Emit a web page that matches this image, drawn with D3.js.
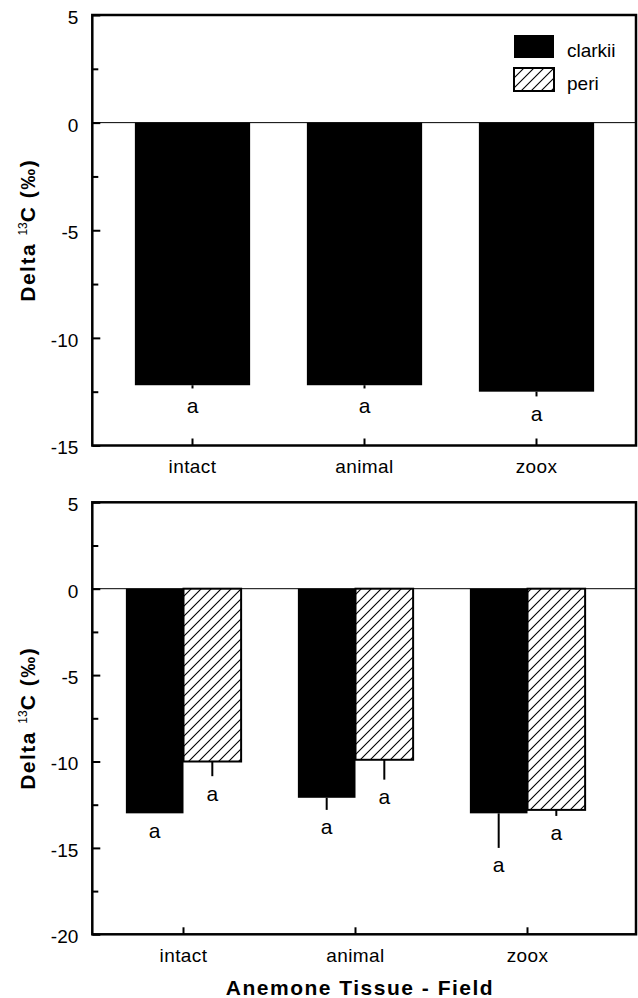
<!DOCTYPE html>
<html>
<head>
<meta charset="utf-8">
<script src="https://cdn.jsdelivr.net/npm/d3@7"></script>
<style>
    body{margin:0;background:#fff;}
    text{font-family:"Liberation Sans",Arial,sans-serif;fill:#000;}
</style>
</head>
<body>
<script>
//categories and series names
var categories = ["intact", "animal", "zoox"];
var seriesNames = ["clarkii", "peri"];

//top panel values (clarkii only)
var topClarkii = [-12.2, -12.2, -12.5];
var topClarkiiErr = [0.15, 0.15, 0.22];
var topLetters = ["a", "a", "a"];

//bottom panel values
var botClarkii = [-13.0, -12.1, -13.0];
var botClarkiiErr = [0, 0.7, 2.0];
var botClarkiiLetters = ["a", "a", "a"];
var botPeri = [-10.0, -9.9, -12.8];
var botPeriErr = [0.85, 1.15, 0.35];
var botPeriLetters = ["a", "a", "a"];

//tick values
var topMajorTicks = [5, 0, -5, -10, -15];
var topMinorTicks = [2.5, -2.5, -7.5, -12.5];
var botMajorTicks = [5, 0, -5, -10, -15, -20];
var botMinorTicks = [2.5, -2.5, -7.5, -12.5, -17.5];

var xTitle = "Anemone Tissue - Field";

(function(){

    var width = 638,
        height = 998,
        plotLeft = 92.3,
        plotRight = 636,
        step = 172;

    var svg = d3.select("body")
        .append("svg")
        .attr("width", width)
        .attr("height", height);

    //diagonal hatch for peri
    var pattern = svg.append("defs")
        .append("pattern")
        .attr("id", "hatch")
        .attr("patternUnits", "userSpaceOnUse")
        .attr("width", 10)
        .attr("height", 10);
    pattern.append("rect")
        .attr("width", 10)
        .attr("height", 10)
        .attr("fill", "#fff");
    pattern.append("path")
        .attr("d", "M-2,2 L2,-2 M0,10 L10,0 M8,12 L12,8")
        .attr("stroke", "#000")
        .attr("stroke-width", 1.1);

    //top panel
    drawPanel({
        top: 15,
        bottom: 445.5,
        domain: [-15, 5],
        majorTicks: topMajorTicks,
        minorTicks: topMinorTicks,
        center0: 192.5,
        series: [
            {name: "clarkii", values: topClarkii, errs: topClarkiiErr, letters: topLetters}
        ]
    });

    //bottom panel
    drawPanel({
        top: 502.3,
        bottom: 934.3,
        domain: [-20, 5],
        majorTicks: botMajorTicks,
        minorTicks: botMinorTicks,
        center0: 183.5,
        series: [
            {name: "clarkii", values: botClarkii, errs: botClarkiiErr, letters: botClarkiiLetters},
            {name: "peri", values: botPeri, errs: botPeriErr, letters: botPeriLetters}
        ]
    });

    drawLegend();

    //x axis title
    svg.append("text")
        .attr("x", 360)
        .attr("y", 995)
        .attr("text-anchor", "middle")
        .style("font-size", "21px")
        .style("font-weight", "bold")
        .style("letter-spacing", "1.5px")
        .text(xTitle);

    function drawPanel(p){
        var g = svg.append("g");

        var y = d3.scaleLinear()
            .domain(p.domain)
            .range([p.bottom, p.top]);

        var x0 = d3.scaleBand()
            .domain(categories)
            .range([p.center0 - step / 2, p.center0 + step * 2.5])
            .paddingInner(0.33)
            .paddingOuter(0.165);

        var x1 = d3.scaleBand()
            .domain(p.series.map(function(s){ return s.name; }))
            .range([0, x0.bandwidth()]);

        //zero line
        g.append("line")
            .attr("x1", plotLeft)
            .attr("x2", plotRight)
            .attr("y1", y(0))
            .attr("y2", y(0))
            .attr("stroke", "#000")
            .attr("stroke-width", 1);

        p.series.forEach(function(s){
            var rows = categories.map(function(c, i){
                return {cat: c, v: s.values[i], e: s.errs[i], t: s.letters[i]};
            });
            var hatched = s.name == "peri";

            //bars
            g.selectAll(".bar-" + s.name)
                .data(rows)
                .enter()
                .append("rect")
                .attr("x", function(d){ return x0(d.cat) + x1(s.name); })
                .attr("y", y(0))
                .attr("width", x1.bandwidth())
                .attr("height", function(d){ return y(d.v) - y(0); })
                .attr("fill", hatched ? "url(#hatch)" : "#000")
                .attr("stroke", hatched ? "#000" : "none")
                .attr("stroke-width", 2);

            //error bars (downward only)
            g.selectAll(".err-" + s.name)
                .data(rows.filter(function(d){ return d.e > 0; }))
                .enter()
                .append("line")
                .attr("x1", function(d){ return x0(d.cat) + x1(s.name) + x1.bandwidth() / 2; })
                .attr("x2", function(d){ return x0(d.cat) + x1(s.name) + x1.bandwidth() / 2; })
                .attr("y1", function(d){ return y(d.v); })
                .attr("y2", function(d){ return y(d.v - d.e); })
                .attr("stroke", "#000")
                .attr("stroke-width", 2);

            //significance letters
            g.selectAll(".lab-" + s.name)
                .data(rows)
                .enter()
                .append("text")
                .attr("x", function(d){ return x0(d.cat) + x1(s.name) + x1.bandwidth() / 2; })
                .attr("y", function(d){ return y(d.v - d.e) + 24.5; })
                .attr("text-anchor", "middle")
                .style("font-size", "21px")
                .text(function(d){ return d.t; });
        });

        //minor y ticks
        g.append("g")
            .attr("transform", "translate(" + plotLeft + ",0)")
            .call(d3.axisLeft(y).tickValues(p.minorTicks).tickSize(-6).tickFormat(""))
            .call(styleAxis);

        //major y ticks with labels
        g.append("g")
            .attr("transform", "translate(" + plotLeft + ",0)")
            .call(d3.axisLeft(y).tickValues(p.majorTicks).tickSize(-8).tickPadding(14)
                .tickFormat(function(d){ return String(d); }))
            .call(styleAxis)
            .selectAll("text")
            .attr("dy", "0.44em");

        //x axis
        g.append("g")
            .attr("transform", "translate(0," + p.bottom + ")")
            .call(d3.axisBottom(x0).tickSize(-7).tickPadding(14))
            .call(styleAxis)
            .selectAll("text")
            .style("letter-spacing", "0.4px");

        //frame
        g.append("rect")
            .attr("x", plotLeft)
            .attr("y", p.top)
            .attr("width", plotRight - plotLeft)
            .attr("height", p.bottom - p.top)
            .attr("fill", "none")
            .attr("stroke", "#000")
            .attr("stroke-width", 2.5);

        //y axis title
        var title = g.append("text")
            .attr("transform", "translate(35," + ((p.top + p.bottom) / 2) + ") rotate(-90)")
            .attr("text-anchor", "middle")
            .style("font-size", "21px")
            .style("font-weight", "bold")
            .style("letter-spacing", "1.5px");
        title.append("tspan").text("Delta ");
        title.append("tspan")
            .attr("dy", -8)
            .style("font-size", "12px")
            .style("font-weight", "normal")
            .style("letter-spacing", "0px")
            .text("13");
        title.append("tspan")
            .attr("dy", 8)
            .text("C (\u2030)");
    };

    function styleAxis(a){
        a.select(".domain").remove();
        a.attr("font-family", null).attr("font-size", null);
        a.selectAll("line").attr("stroke", "#000").attr("stroke-width", 2);
        a.selectAll("text").style("font-size", "19px");
    };

    function drawLegend(){
        var legend = svg.append("g")
            .attr("transform", "translate(514,35)");

        var items = legend.selectAll(".item")
            .data(seriesNames)
            .enter()
            .append("g")
            .attr("transform", function(d, i){ return "translate(0," + (i * 33) + ")"; });

        items.append("rect")
            .attr("width", 40)
            .attr("height", 23)
            .attr("fill", function(d){ return d == "peri" ? "url(#hatch)" : "#000"; })
            .attr("stroke", function(d){ return d == "peri" ? "#000" : "none"; })
            .attr("stroke-width", 2);

        items.append("text")
            .attr("x", 53)
            .attr("y", 22)
            .style("font-size", "19px")
            .text(function(d){ return d; });
    };

})();
</script>
</body>
</html>
